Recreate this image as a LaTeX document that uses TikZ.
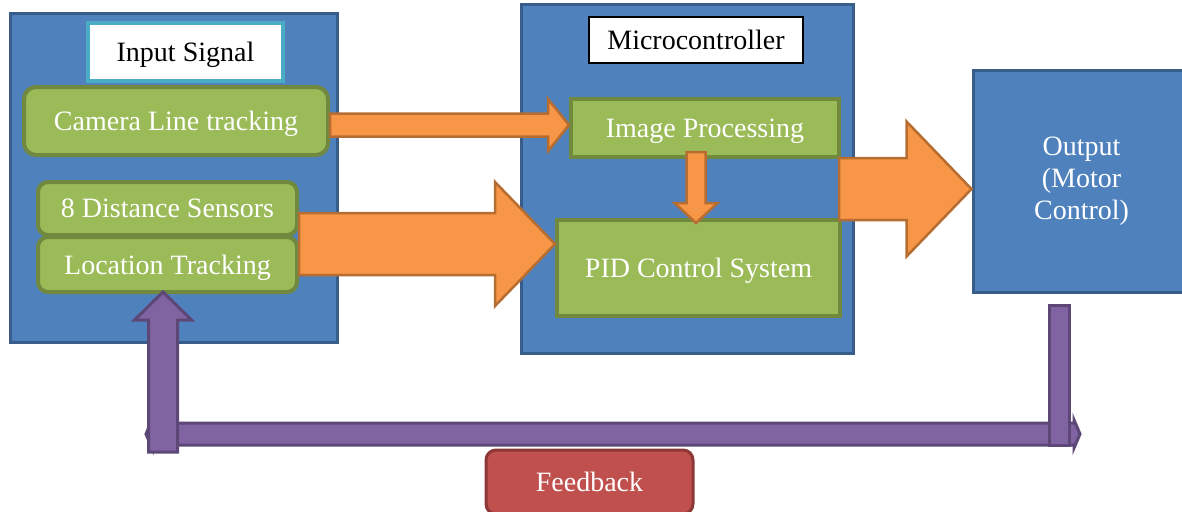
\documentclass[tikz,border=0pt]{standalone}
\usepackage{fontspec}
\setmainfont{Liberation Serif}
\usetikzlibrary{calc}

\definecolor{panelblue}{HTML}{4F81BD}
\definecolor{paneledge}{HTML}{385D8A}
\definecolor{titleteal}{HTML}{4BACC6}
\definecolor{stagegreen}{HTML}{9BBB59}
\definecolor{stageedge}{HTML}{71893F}
\definecolor{floworange}{HTML}{F79646}
\definecolor{flowedge}{HTML}{B66D31}
\definecolor{fbpurple}{HTML}{8064A2}
\definecolor{fbedge}{HTML}{5C4776}
\definecolor{notered}{HTML}{C0504D}
\definecolor{noteedge}{HTML}{8C3836}

% block arrows: style, from, to, shaft half width, head half width, head length
\newcommand{\blockright}[6]{%
	\draw[#1] let \p1=(#2), \p2=(#3) in
		(\x1,\y1+#4pt) -- (\x2-#6pt,\y1+#4pt) -- (\x2-#6pt,\y1+#5pt) -- (\x2,\y1)
		-- (\x2-#6pt,\y1-#5pt) -- (\x2-#6pt,\y1-#4pt) -- (\x1,\y1-#4pt) -- cycle;}
\newcommand{\blockvert}[6]{%
	\draw[#1] let \p1=(#2), \p2=(#3), \p3=($(\p2)!#6pt!(\x2,\y1)$) in
		(\x2-#4pt,\y1) -- (\x2-#4pt,\y3) -- (\x2-#5pt,\y3) -- (\x2,\y2)
		-- (\x2+#5pt,\y3) -- (\x2+#4pt,\y3) -- (\x2+#4pt,\y1) -- cycle;}

\begin{document}
\begin{tikzpicture}[x=1pt, y=-1pt,
	font=\fontsize{28pt}{32pt}\selectfont,
	panel/.style={draw=paneledge, fill=panelblue, line width=3pt, inner sep=0pt},
	heading/.style={fill=white, inner sep=0pt, text depth=0pt},
	stage/.style={draw=stageedge, fill=stagegreen, line width=4pt, text=white, inner sep=0pt, text depth=0pt},
	roundstage/.style={stage, rounded corners=12pt},
	flowarrow/.style={draw=flowedge, fill=floworange, line width=2.5pt},
	fbarrow/.style={draw=fbedge, fill=fbpurple, line width=3pt},
	fbnote/.style={draw=noteedge, fill=notered, line width=3pt, rounded corners=10pt, text=white, inner sep=0pt}]
		\clip (0,0) rectangle (1182,511);

		\node[panel, minimum width=327pt, minimum height=328pt] (in) at (173.5,178) {};
		\node[heading, draw=titleteal, line width=4pt, minimum width=195pt, minimum height=58pt] (inTitle) at (185.5,52) {Input Signal};
		\node[roundstage, minimum width=304pt, minimum height=68pt] (cam) at (176,121) {Camera Line tracking};
		\node[roundstage, rounded corners=10pt, minimum width=259pt, minimum height=53pt] (sens) at (167.5,208.5) {8 Distance Sensors};
		\node[roundstage, rounded corners=10pt, minimum width=259pt, minimum height=55pt] (loc) at (167.5,264.5) {Location Tracking};

		\node[panel, minimum width=332pt, minimum height=348pt] (mcu) at (687,179) {};
		\node[heading, draw=black, line width=2pt, minimum width=214pt, minimum height=46pt] (mcuTitle) at (696,40) {Microcontroller};
		\node[stage, minimum width=268pt, minimum height=58pt] (img) at (705,128) {Image Processing};
		\node[stage, minimum width=283pt, minimum height=96pt] (pid) at (698.5,268) {PID Control System};

		\node[panel, text=white, align=center, minimum width=217pt, minimum height=222pt] (out) at (1081.5,181) {Output\\(Motor\\Control)};

		\blockright{flowarrow}{$(cam.east)+(0,4)$}{img.west}{11.5}{26}{21}
		\blockright{flowarrow}{$(loc.north east)+(0,9)$}{pid.west}{31}{62}{60}
		\blockright{flowarrow}{$(pid.north east)+(-3,-29)$}{out.west}{31}{67.5}{65}
		\blockvert{flowarrow}{$(img.south)+(0,-7)$}{$(pid.north)+(-2.5,5)$}{9.5}{21.5}{20}

		\coordinate (fbL) at (146,434);
		\coordinate (fbR) at (1080,434);
		\coordinate (fbFoot) at ($(fbL)+(17,18)$);
		\coordinate (fbTop) at ($(out.south)+(-22.5,12)$);
		\draw[fbarrow] let \p1=(fbL), \p2=(fbR) in
			(\x1,\y1) -- (\x1+6pt,\y1+14pt) -- (\x1+6pt,\y1+11pt) -- (\x2-6pt,\y1+11pt) -- (\x2-6pt,\y1+14pt) -- (\x2,\y1)
			-- (\x2-6pt,\y1-14pt) -- (\x2-6pt,\y1-11pt) -- (\x1+6pt,\y1-11pt) -- (\x1+6pt,\y1-14pt) -- cycle;
		\draw[fbarrow] ($(fbTop)+(-10,0)$) rectangle ($(fbR)+(-11,11)$);
		\blockvert{fbarrow}{fbFoot}{$(loc.south)+(-4.5,-2)$}{14.5}{28.5}{28}

		\node[fbnote, minimum width=207pt, minimum height=64pt] (fb) at (589.5,482) {Feedback};
\end{tikzpicture}
\end{document}
